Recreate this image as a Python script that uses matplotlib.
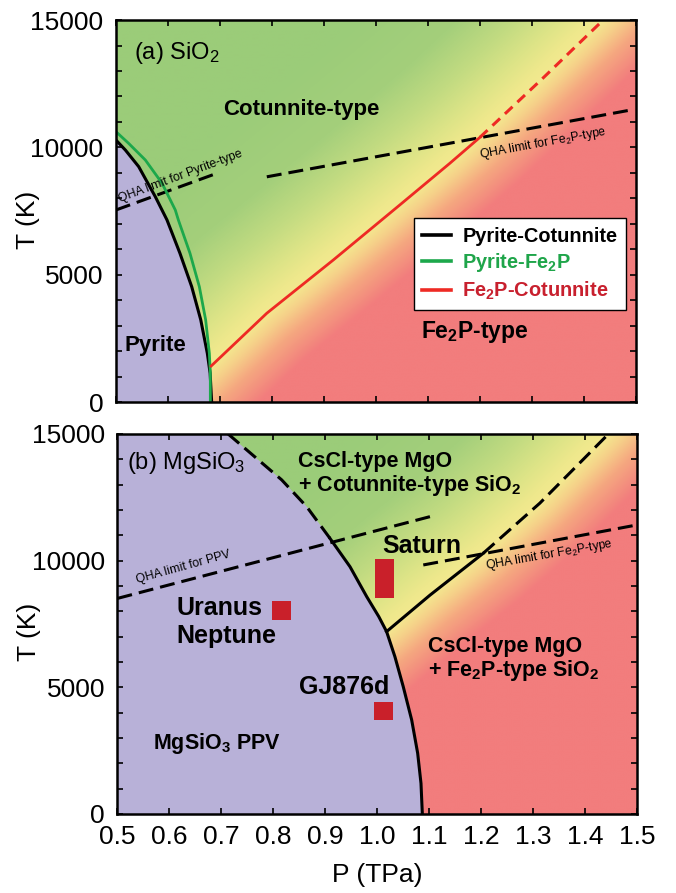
import numpy as np
import matplotlib
matplotlib.use('Agg')
import matplotlib.pyplot as plt
from matplotlib.colors import LinearSegmentedColormap

plt.rcParams['font.family'] = ['Liberation Sans', 'DejaVu Sans']
plt.rcParams['mathtext.default'] = 'regular'

# ---- panel (a) SiO2 ----
# Pyrite-Cotunnite boundary (black)
pc_P = [0.684, 0.681, 0.6756, 0.663, 0.6456, 0.623, 0.598, 0.5756, 0.5436, 0.518, 0.5]
pc_T = [0, 1150, 1930, 3240, 4540, 5850, 7160, 8070, 9250, 9900, 10290]
# Pyrite-Fe2P boundary (green)
pf_P = [0.6814, 0.6814, 0.6795, 0.6724, 0.6603, 0.6423, 0.6199, 0.614, 0.5885, 0.5564,
        0.5244, 0.5]
pf_T = [0, 1150, 1930, 3240, 4540, 5850, 7160, 7550, 8600, 9510, 10160, 10620]
# Fe2P-Cotunnite boundary (red), solid then dashed (beyond QHA limit)
fc_P = [0.683, 0.790, 0.918, 1.046, 1.142, 1.200]
fc_T = [1430, 3500, 5590, 7750, 9380, 10400]
fc_ext_P = [1.200, 1.320, 1.437]
fc_ext_T = [10400, 12700, 15000]
# QHA limits
qha_pyr_P = [0.5, 0.697]
qha_pyr_T = [7550, 9010]
qha_fe2p_a_P = [0.79, 1.49]
qha_fe2p_a_T = [8850, 11470]

# ---- panel (b) MgSiO3 ----
ppv_P = [1.0868, 1.0842, 1.0778, 1.0663, 1.050, 1.034, 1.018, 1.003, 0.9797,
         0.9476, 0.909, 0.8642, 0.816, 0.713]
ppv_T = [0, 1210, 2400, 3710, 5030, 6210, 7200, 7790, 8580, 9760, 10880, 12130,
         13190, 15000]
ppv_qha_T = 10880  # dashed above this
cf_P = [1.018, 1.1016, 1.204]
cf_T = [7200, 8640, 10290]
cf_ext_P = [1.204, 1.313, 1.445]
cf_ext_T = [10290, 12270, 15000]
qha_ppv_P = [0.5, 1.102]
qha_ppv_T = [8510, 11740]
qha_fe2p_b_P = [1.0886, 1.5]
qha_fe2p_b_T = [9830, 11410]

planet_names = ['Uranus/Neptune', 'Saturn', 'GJ876d']
planet_P = [0.815, 1.0147, 1.0117]
planet_Tlo = [7660, 8540, 3710]
planet_Thi = [8410, 10060, 4430]

PURPLE = '#b8b1d8'
GREEN_LINE = '#1ca84b'
RED_LINE = '#ee2a24'
SQ_RED = '#c9202a'

# shading colour vs. signed distance (px) from the Fe2P boundary
shade_stops = [(-170, '#9bcc79'), (-100, '#a4cf7b'), (-60, '#c2db81'), (-30, '#dde487'),
               (-10, '#eee88c'), (0, '#f3e98f'), (14, '#f6d089'), (32, '#f5a880'),
               (60, '#f27d7d'), (75, '#f27d7d')]
S_MIN, S_MAX = shade_stops[0][0], shade_stops[-1][0]
shade_cmap = LinearSegmentedColormap.from_list(
    'phase', [((s - S_MIN) / (S_MAX - S_MIN), c) for s, c in shade_stops])


def extend(P, T, k=3.0):
    # push the boundary past the frame so the shading has no edge
    P = list(P); T = list(T)
    lo = (P[0] - k * (P[1] - P[0]), T[0] - k * (T[1] - T[0]))
    hi = (P[-1] + k * (P[-1] - P[-2]), T[-1] + k * (T[-1] - T[-2]))
    return [lo[0]] + P + [hi[0]], [lo[1]] + T + [hi[1]]


def shade(ax, bP, bT):
    P = np.linspace(0.5, 1.5, 500)
    T = np.linspace(0, 15000, 500)
    PP, TT = np.meshgrid(P, T)
    X, Y = PP * 520, TT * 0.0255
    bx, by = np.asarray(bP) * 520, np.asarray(bT) * 0.0255
    d = np.full(X.shape, np.inf)
    for i in range(len(bx) - 1):
        dx, dy = bx[i + 1] - bx[i], by[i + 1] - by[i]
        t = np.clip(((X - bx[i]) * dx + (Y - by[i]) * dy) / (dx * dx + dy * dy), 0, 1)
        d = np.minimum(d, np.hypot(X - bx[i] - t * dx, Y - by[i] - t * dy))
    s = np.sign(PP - np.interp(TT, bT, bP)) * d
    rgb = shade_cmap(np.clip((s - S_MIN) / (S_MAX - S_MIN), 0, 1))
    ax.imshow(rgb, extent=(0.5, 1.5, 0, 15000), origin='lower', aspect='auto',
              interpolation='bilinear', zorder=0)


def style(ax, xlabels):
    ax.set_xlim(0.5, 1.5)
    ax.set_ylim(0, 15000)
    ax.set_xticks(np.arange(0.5, 1.51, 0.1))
    ax.set_yticks([0, 5000, 10000, 15000])
    ax.set_yticks(np.arange(0, 15001, 1000), minor=True)
    ax.tick_params(which='both', direction='in', top=True, right=True,
                   length=4, width=1.2, labelsize=19)
    ax.tick_params(axis='y', pad=9)
    ax.tick_params(axis='x', pad=8)
    if xlabels:
        ax.set_xticklabels(['%.1f' % v for v in np.arange(0.5, 1.51, 0.1)])
    else:
        ax.set_xticklabels([])
    for sp in ax.spines.values():
        sp.set_linewidth(1.8)
        sp.set_zorder(10)
    ax.set_ylabel('T (K)', fontsize=19)
    ax.yaxis.set_label_coords(-0.147, 0.478)


DASH = (0, (4.9, 2.3))
fig = plt.figure(figsize=(6.76, 8.93), dpi=100)
axa = fig.add_axes([0.1716, 0.5493, 0.7692, 0.4283])
axb = fig.add_axes([0.1738, 0.0885, 0.7685, 0.4255])

# ---------- (a) ----------
gP, gT = extend(fc_P + fc_ext_P[1:], fc_T + fc_ext_T[1:])
shade(axa, gP, gT)
axa.fill_betweenx(pc_T, 0.5, pc_P, color=PURPLE, lw=0, zorder=1)
l1, = axa.plot(pc_P, pc_T, color='black', lw=2.2, zorder=3, label='Pyrite-Cotunnite')
l2, = axa.plot(pf_P, pf_T, color=GREEN_LINE, lw=2.0, zorder=4, label='Pyrite-Fe$_2$P')
l3, = axa.plot(fc_P, fc_T, color=RED_LINE, lw=2.0, zorder=4, label='Fe$_2$P-Cotunnite')
axa.plot(fc_ext_P, fc_ext_T, color=RED_LINE, lw=2.2, ls=(0, (3.4, 2.2)), zorder=4)
axa.plot(qha_pyr_P, qha_pyr_T, color='black', lw=2.2, ls=DASH, zorder=3)
axa.plot(qha_fe2p_a_P, qha_fe2p_a_T, color='black', lw=2.2, ls=DASH, zorder=3)

axa.text(0.5346, 13460, '(a) SiO$_2$', fontsize=17, va='baseline', zorder=6)
axa.text(0.7058, 11270, 'Cotunnite-type', fontsize=16, fontweight='bold',
         va='baseline', zorder=6)
axa.text(0.5173, 2030, 'Pyrite', fontsize=16, fontweight='bold', va='baseline', zorder=6)
axa.text(1.086, 2520, 'Fe$_2$P-type', fontsize=16.5, fontweight='bold',
         va='baseline', zorder=6)
axa.text(0.5077, 7870, 'QHA limit for Pyrite-type', fontsize=8.8, rotation=20.5,
         rotation_mode='anchor', va='baseline', zorder=6)
axa.text(1.2, 9580, 'QHA limit for Fe$_2$P-type', fontsize=8.8, rotation=10.5,
         rotation_mode='anchor', va='baseline', zorder=6)

leg = axa.legend(handles=[l1, l2, l3], loc='upper left', bbox_to_anchor=(0.573, 0.482),
                 borderaxespad=0, prop={'weight': 'bold', 'size': 14.4},
                 handlelength=1.45, handletextpad=0.55, labelspacing=0.28,
                 borderpad=0.42, fancybox=False, framealpha=1, edgecolor='black')
leg.get_frame().set_linewidth(1.0)
leg.set_zorder(8)
for txt, c in zip(leg.get_texts(), ['black', '#1fa54a', '#c8202e']):
    txt.set_color(c)
for ln in leg.get_lines():
    ln.set_linewidth(2.6)
style(axa, False)

# ---------- (b) ----------
gP, gT = extend(cf_P + cf_ext_P[1:], cf_T + cf_ext_T[1:])
shade(axb, gP, gT)
axb.fill_betweenx(ppv_T, 0.5, ppv_P, color=PURPLE, lw=0, zorder=1)
ppv_P_arr, ppv_T_arr = np.array(ppv_P), np.array(ppv_T)
solid = ppv_T_arr <= ppv_qha_T
dashed = ppv_T_arr >= ppv_qha_T
axb.plot(ppv_P_arr[solid], ppv_T_arr[solid], color='black', lw=2.2, zorder=3)
axb.plot(ppv_P_arr[dashed], ppv_T_arr[dashed], color='black', lw=2.2, ls=DASH, zorder=3)
axb.plot(cf_P, cf_T, color='black', lw=2.2, zorder=3)
axb.plot(cf_ext_P, cf_ext_T, color='black', lw=2.2, ls=DASH, zorder=3)
axb.plot(qha_ppv_P, qha_ppv_T, color='black', lw=2.2, ls=DASH, zorder=3)
axb.plot(qha_fe2p_b_P, qha_fe2p_b_T, color='black', lw=2.2, ls=DASH, zorder=3)

axb.bar(planet_P, np.subtract(planet_Thi, planet_Tlo), bottom=planet_Tlo, width=0.037,
        color=SQ_RED, lw=0, zorder=5)

bold = dict(fontweight='bold', va='baseline', zorder=6)
axb.text(0.518, 13600, '(b) MgSiO$_3$', fontsize=17, va='baseline', zorder=6)
axb.text(0.8474, 13710, 'CsCl-type MgO', fontsize=15.5, **bold)
axb.text(0.8474, 12750, '+ Cotunnite-type SiO$_2$', fontsize=15.5, **bold)
axb.text(1.0105, 10310, 'Saturn', fontsize=18, **bold)
axb.text(0.614, 7860, 'Uranus', fontsize=18, **bold)
axb.text(0.614, 6740, 'Neptune', fontsize=18, **bold)
axb.text(0.85, 4740, 'GJ876d', fontsize=18, **bold)
axb.text(0.5678, 2550, 'MgSiO$_3$ PPV', fontsize=15.5, **bold)
axb.text(1.098, 6410, 'CsCl-type MgO', fontsize=15.5, **bold)
axb.text(1.098, 5450, '+ Fe$_2$P-type SiO$_2$', fontsize=15.5, **bold)
axb.text(0.538, 9130, 'QHA limit for PPV', fontsize=8.8, rotation=15.5,
         rotation_mode='anchor', va='baseline', zorder=6)
axb.text(1.2088, 9660, 'QHA limit for Fe$_2$P-type', fontsize=8.8, rotation=10,
         rotation_mode='anchor', va='baseline', zorder=6)
style(axb, True)
axb.set_xlabel('P (TPa)', fontsize=19)
axb.xaxis.set_label_coords(0.5, -0.129)

fig.savefig('out.png', dpi=100)
